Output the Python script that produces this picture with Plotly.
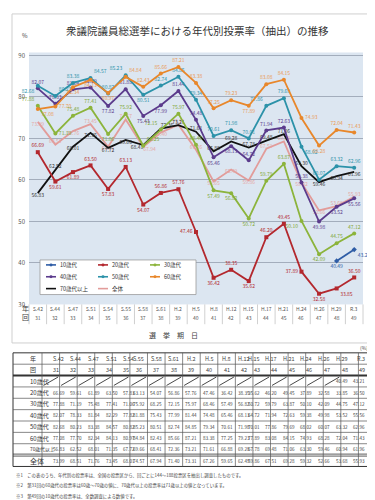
import plotly.graph_objects as go

W, H = 375, 500

# ---------------- data ----------------
elections = ["S.42", "S.44", "S.47", "S.51", "S.54", "S.55", "S.58", "S.61", "H.2", "H.5",
             "H.8", "H.12", "H.15", "H.17", "H.21", "H.24", "H.26", "H.29", "R.3"]
sessions = [31, 32, 33, 34, 35, 36, 37, 38, 39, 40, 41, 42, 43, 44, 45, 46, 47, 48, 49]

teens = [None] * 17 + [40.49, 43.21]
twenties = [66.69, 59.61, 61.89, 63.50, 57.83, 63.13, 54.07, 56.86, 57.76, 47.46,
            36.42, 38.35, 35.62, 46.20, 49.45, 37.89, 32.58, 33.85, 36.50]
thirties = [77.88, 71.19, 75.48, 77.41, 71.06, 75.92, 68.25, 72.15, 75.97, 68.46,
            57.49, 56.82, 50.72, 59.79, 63.87, 50.10, 42.09, 44.75, 47.12]
forties = [82.07, 78.33, 81.84, 82.29, 77.82, 81.88, 75.43, 77.99, 81.44, 74.48,
           65.46, 68.13, 64.72, 71.94, 72.63, 59.38, 49.98, 53.52, 55.56]
fifties = [82.68, 80.23, 83.38, 84.57, 80.82, 85.23, 80.51, 82.74, 84.85, 79.34,
           70.61, 71.98, 70.01, 77.86, 79.69, 68.02, 60.07, 63.32, 62.96]
sixties = [77.08, 77.70, 82.34, 84.13, 80.97, 84.84, 82.43, 85.66, 87.21, 83.38,
           77.25, 79.23, 77.89, 83.08, 84.15, 74.93, 68.28, 72.04, 71.43]
seventies = [56.83, 62.52, 68.01, 71.35, 67.72, 69.66, 68.41, 72.36, 73.21, 71.61,
             66.88, 69.28, 67.78, 69.48, 71.06, 63.30, 59.46, 60.94, 61.96]
overall = [73.99, 68.51, 71.76, 73.45, 68.01, 74.57, 67.94, 71.40, 73.31, 67.26,
           59.65, 62.49, 59.86, 67.51, 69.28, 59.32, 52.66, 53.68, 55.93]

series_names = ["10歳代", "20歳代", "30歳代", "40歳代", "50歳代", "60歳代", "70歳代以上", "全体"]
y_ticks = [30, 40, 50, 60, 70, 80, 90]

title_text = "衆議院議員総選挙における年代別投票率（抽出）の推移"
notes = [
    "※1　この表のうち、年代別の投票率は、全国の投票区から、回ごとに144～188投票区を抽出し調査したものです。",
    "※2　第31回の60歳代の投票率は60歳～70歳の値に、70歳代以上の投票率は71歳以上の値となっています。",
    "※3　第49回の10歳代の投票率は、全数調査による数値です。",
]

# ---------------- styles ----------------
FONT = "Noto Sans CJK JP"
colors = {
    "10歳代": "#2F5DA6",
    "20歳代": "#B3282E",
    "30歳代": "#8CB43C",
    "40歳代": "#5B3B8C",
    "50歳代": "#2C92A9",
    "60歳代": "#E8872B",
    "70歳代以上": "#111111",
    "全体": "#E29C9A",
}
label_colors = {
    "10歳代": "#2F5DA6",
    "20歳代": "#B3282E",
    "30歳代": "#7FA735",
    "40歳代": "#5B3B8C",
    "50歳代": "#2C92A9",
    "60歳代": "#EA9A55",
    "70歳代以上": "#333333",
    "全体": "#E4A6A4",
}
POSMAP = {"t": "top center", "b": "bottom center", "l": "middle left", "r": "middle right",
          "tl": "top left", "tr": "top right", "bl": "bottom left", "br": "bottom right"}
label_pos = {
    "10歳代": ["b"] * 17 + ["b", "br"],
    "20歳代": ["t", "b", "b", "t", "b", "t", "b", "t", "t", "l", "b", "t", "b", "t", "t", "l", "b", "br", "t"],
    "30歳代": ["tl", "r", "t", "t", "b", "t", "tr", "tl", "t", "t", "b", "b", "b", "t", "t", "bl", "b", "t", "t"],
    "40歳代": ["t", "t", "t", "t", "b", "t", "b", "b", "t", "t", "b", "b", "t", "t", "t", "t", "b", "b", "b"],
    "50歳代": ["bl", "tr", "t", "tr", "t", "tl", "b", "t", "t", "t", "t", "t", "t", "tl", "t", "br", "t", "t", "t"],
    "60歳代": ["br", "r", "b", "b", "b", "tr", "t", "t", "t", "t", "t", "t", "b", "t", "t", "r", "b", "t", "t"],
    "70歳代以上": ["b", "t", "b", "b", "b", "b", "bl", "tr", "t", "t", "t", "t", "t", "t", "t", "t", "b", "b", "b"],
    "全体": ["b", "t", "b", "t", "b", "t", "br", "b", "t", "t", "b", "b", "b", "t", "t", "b", "b", "t", "t"],
}
markers = {"10歳代": "diamond", "20歳代": "square", "30歳代": "circle", "40歳代": "circle",
           "50歳代": "circle", "60歳代": "circle", "70歳代以上": None, "全体": None}

values = {"10歳代": teens, "20歳代": twenties, "30歳代": thirties, "40歳代": forties,
          "50歳代": fifties, "60歳代": sixties, "70歳代以上": seventies, "全体": overall}


def px(x):
    return x / W


def py(y):
    return 1 - y / H


# plot geometry (pixels)
PL, PR, PT, PB = 21, 355, 43, 298
YMIN, YMAX = 30, 90 + 3 / 4.2

fig = go.Figure()

draw_order = ["全体", "70歳代以上", "30歳代", "40歳代", "20歳代", "50歳代", "60歳代", "10歳代"]
for name in draw_order:
    vals = values[name]
    txt = ["" if v is None else f"{v:.2f}" for v in vals]
    mk = markers[name]
    fig.add_trace(go.Scatter(
        x=elections, y=vals, name=name,
        mode="lines+markers+text" if mk else "lines+text",
        line=dict(color=colors[name], width=1.8),
        marker=dict(symbol=mk or "circle", size=4, color=colors[name]),
        text=txt,
        textposition=[POSMAP[p] for p in label_pos[name]],
        textfont=dict(size=5, color=label_colors[name], family=FONT),
        connectgaps=False,
        showlegend=False,
        hoverinfo="skip",
        cliponaxis=False,
    ))

shapes = []
annotations = []

# outer frame
shapes.append(dict(type="rect", xref="paper", yref="paper", x0=px(4), x1=px(362), y0=py(4), y1=py(337),
                   line=dict(color="#CFCFCF", width=1), layer="below"))

# title
annotations.append(dict(text=title_text, xref="paper", yref="paper", x=px(189), y=py(21),
                        showarrow=False, font=dict(size=10.5, color="#333333", family=FONT),
                        xanchor="center", yanchor="middle"))
annotations.append(dict(text="%", xref="paper", yref="paper", x=px(17), y=py(26),
                        showarrow=False, font=dict(size=6, color="#444444", family=FONT),
                        xanchor="center", yanchor="middle"))

# category band below plot
step = (PR - PL) / len(elections)
for k in range(len(elections) + 1):
    xx = PL + k * step
    shapes.append(dict(type="line", xref="paper", yref="paper", x0=px(xx), x1=px(xx),
                       y0=py(PB), y1=py(318), line=dict(color="#C4C4C4", width=0.8)))
for i, (e, s) in enumerate(zip(elections, sessions)):
    annotations.append(dict(text=e, xref="x", yref="paper", x=i, y=py(302), showarrow=False,
                            font=dict(size=5, color="#555555", family=FONT), yanchor="middle"))
    annotations.append(dict(text=str(s), xref="x", yref="paper", x=i, y=py(311), showarrow=False,
                            font=dict(size=5, color="#555555", family=FONT), yanchor="middle"))
annotations.append(dict(text="年", xref="paper", yref="paper", x=px(12), y=py(302), showarrow=False,
                        font=dict(size=7, color="#444444", family=FONT), yanchor="middle"))
annotations.append(dict(text="回", xref="paper", yref="paper", x=px(12), y=py(311), showarrow=False,
                        font=dict(size=7, color="#444444", family=FONT), yanchor="middle"))
annotations.append(dict(text="選　挙　期　日", xref="paper", yref="paper", x=px(165), y=py(329),
                        showarrow=False, font=dict(size=7, color="#444444", family=FONT),
                        yanchor="middle"))

# manual legend
shapes.append(dict(type="rect", xref="paper", yref="paper", x0=px(32), x1=px(188), y0=py(253), y1=py(288),
                   line=dict(color="#9A9A9A", width=0.8), fillcolor="white"))
leg_pos = [(38, 258), (90, 258), (142, 258), (38, 270), (90, 270), (142, 270), (38, 282), (90, 282)]
for name, (lx, ly) in zip(series_names, leg_pos):
    shapes.append(dict(type="line", xref="paper", yref="paper", x0=px(lx), x1=px(lx + 10),
                       y0=py(ly), y1=py(ly), line=dict(color=colors[name], width=1.6)))
    if markers[name]:
        shapes.append(dict(type="circle", xref="paper", yref="paper", x0=px(lx + 3.5), x1=px(lx + 6.5),
                           y0=py(ly - 1.5), y1=py(ly + 1.5), line=dict(color=colors[name], width=0),
                           fillcolor=colors[name]))
    annotations.append(dict(text=name, xref="paper", yref="paper", x=px(lx + 12), y=py(ly),
                            showarrow=False, xanchor="left", yanchor="middle",
                            font=dict(size=5.5, color="#333333", family=FONT)))

# ---------------- table ----------------
TL, TR_, TT = 5, 368, 347
HC = 34  # end of header column
RH = 11.5
cw = (TR_ - HC) / len(elections)
row_labels = ["年", "回"] + series_names
nrows = len(row_labels)
TB = TT + nrows * RH

annotations.append(dict(text="(%)", xref="paper", yref="paper", x=px(362), y=py(342), showarrow=False,
                        font=dict(size=5, color="#444444", family=FONT), yanchor="middle"))

tline = "#555555"
shapes.append(dict(type="rect", xref="paper", yref="paper", x0=px(TL), x1=px(TR_), y0=py(TT), y1=py(TB),
                   line=dict(color="#333333", width=1)))
for r in range(1, nrows):
    yy = TT + r * RH
    if r == 2:
        shapes.append(dict(type="line", xref="paper", yref="paper", x0=px(TL), x1=px(TR_),
                           y0=py(yy), y1=py(yy), line=dict(color="#333333", width=2)))
    elif r == nrows - 1:
        for d in (-1, 1):
            shapes.append(dict(type="line", xref="paper", yref="paper", x0=px(TL), x1=px(TR_),
                               y0=py(yy + d), y1=py(yy + d), line=dict(color="#333333", width=0.8)))
    else:
        shapes.append(dict(type="line", xref="paper", yref="paper", x0=px(TL), x1=px(TR_),
                           y0=py(yy), y1=py(yy), line=dict(color=tline, width=0.7)))
for c in range(len(elections)):
    xx = HC + c * cw
    shapes.append(dict(type="line", xref="paper", yref="paper", x0=px(xx), x1=px(xx),
                       y0=py(TT), y1=py(TB), line=dict(color=tline, width=0.7)))

for r, lab in enumerate(row_labels):
    cy = TT + (r + 0.5) * RH
    fs = 6 if lab != "70歳代以上" else 4.8
    if lab == "全体":
        fs = 7
    annotations.append(dict(text=lab, xref="paper", yref="paper", x=px((TL + HC) / 2), y=py(cy),
                            showarrow=False, yanchor="middle",
                            font=dict(size=fs, color="#333333", family=FONT)))

for c, (e, s) in enumerate(zip(elections, sessions)):
    cx = HC + (c + 0.5) * cw
    annotations.append(dict(text=e, xref="paper", yref="paper", x=px(cx), y=py(TT + 0.5 * RH),
                            showarrow=False, yanchor="middle",
                            font=dict(size=5.5, color="#444444", family=FONT)))
    annotations.append(dict(text=str(s), xref="paper", yref="paper", x=px(cx), y=py(TT + 1.5 * RH),
                            showarrow=False, yanchor="middle",
                            font=dict(size=5.5, color="#444444", family=FONT)))
    for r, name in enumerate(series_names):
        v = values[name][c]
        top = TT + (r + 2) * RH
        if v is None:
            shapes.append(dict(type="line", xref="paper", yref="paper",
                               x0=px(HC + c * cw + 1.5), x1=px(HC + (c + 1) * cw - 1.5),
                               y0=py(top + RH - 1.5), y1=py(top + 1.5),
                               line=dict(color="#333333", width=0.9)))
        else:
            annotations.append(dict(text=f"{v:.2f}", xref="paper", yref="paper", x=px(cx),
                                    y=py(top + 0.5 * RH), showarrow=False, yanchor="middle",
                                    font=dict(size=4.6, color="#444444", family=FONT)))

for i, t in enumerate(notes):
    annotations.append(dict(text=t, xref="paper", yref="paper", x=px(6), y=py(471 + i * 10.5),
                            showarrow=False, xanchor="left", yanchor="middle",
                            font=dict(size=4.4, color="#444444", family=FONT)))

fig.update_layout(
    width=W, height=H,
    margin=dict(l=0, r=0, t=0, b=0),
    paper_bgcolor="white",
    plot_bgcolor="#DCE6F1",
    font=dict(family=FONT),
    xaxis=dict(domain=[px(PL), px(PR)], range=[-0.5, len(elections) - 0.5], type="category",
               showticklabels=False, showgrid=False, zeroline=False, ticks=""),
    yaxis=dict(domain=[py(PB), py(PT)], range=[YMIN, YMAX], tickvals=y_ticks,
               ticktext=[str(t) for t in y_ticks], showgrid=True, gridcolor="#A3ADBC",
               gridwidth=1, zeroline=False, ticks="", ticklabelstandoff=3,
               tickfont=dict(size=6, color="#555555", family=FONT)),
    shapes=shapes,
    annotations=annotations,
    showlegend=False,
)

fig.write_html("out.html")
